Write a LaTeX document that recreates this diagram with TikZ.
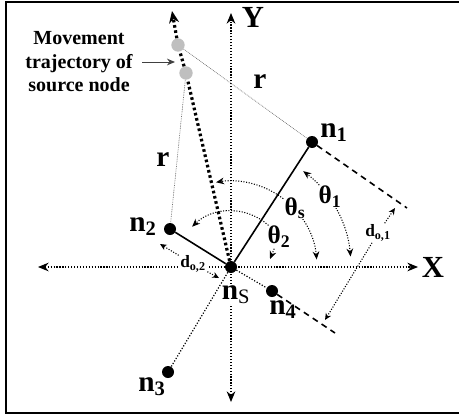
\documentclass[tikz,border=0pt]{standalone}
\usepackage{fontspec}
\setmainfont{Liberation Serif}
\usetikzlibrary{arrows.meta}

\begin{document}
\begin{tikzpicture}[
    x=0.75pt, y=0.75pt,
    every node/.style={font=\bfseries},
    sensor/.style={circle, fill=black, inner sep=0pt, minimum size=9pt},
    ghost/.style={circle, fill=black!25, inner sep=0pt, minimum size=10pt},
    tag/.style={inner sep=1pt, font=\bfseries\fontsize{22}{25}\selectfont},
    bigtag/.style={inner sep=1pt, font=\bfseries\fontsize{23}{26}\selectfont},
    angtag/.style={fill=white, inner sep=0.5pt,
                   font=\bfseries\fontsize{19}{21}\selectfont},
    dtag/.style={inner sep=1pt, font=\bfseries\fontsize{13}{15}\selectfont},
    note/.style={align=center, inner sep=1pt,
                 font=\bfseries\fontsize{15}{17.6}\selectfont},
    axisline/.style={line width=0.9pt, dash pattern=on 0.9pt off 1.3pt,
                     {Stealth[length=8pt,width=6.5pt]}-{Stealth[length=8pt,width=6.5pt]}},
    traj/.style={line width=2.4pt, dash pattern=on 2pt off 2pt},
    rline/.style={black!55, line width=0.5pt, dash pattern=on 0.6pt off 0.7pt},
    link/.style={line width=1.2pt},
    hidden/.style={line width=0.9pt, dash pattern=on 0.9pt off 1.3pt},
    guide/.style={line width=1.2pt, dash pattern=on 4.5pt off 3.5pt},
    angarrow/.style={line width=0.8pt, dash pattern=on 0.8pt off 1.2pt,
                     {Stealth[length=6pt,width=5pt]}-{Stealth[length=6pt,width=5pt]}},
    angend/.style={line width=0.8pt, dash pattern=on 0.8pt off 1.2pt,
                   -{Stealth[length=6pt,width=5pt]}},
    darrow/.style={line width=0.8pt, dash pattern=on 0.8pt off 1.2pt,
                   -{Stealth[length=5pt,width=4.5pt]}},
]

\useasboundingbox (0,0) rectangle (459,419);
\draw[line width=1.5pt] (6,6) rectangle (463,417);

\coordinate (xl) at (38,152);
\coordinate (xr) at (418,152);
\coordinate (yt) at (231,406);
\coordinate (yb) at (231,17);
\draw[axisline] (xl) -- (xr);
\draw[axisline] (yb) -- (yt);
\node[bigtag] (xlab) at (433,152) {X};
\node[bigtag] (ylab) at (253,402) {Y};

\node[sensor] (ns) at (231,152) {};
\node[sensor] (n1) at (312,277) {};
\node[sensor] (n2) at (170,190) {};
\node[sensor] (n3) at (168,47) {};
\node[sensor] (n4) at (272,128) {};
\node[ghost] (s1) at (178,374) {};
\node[ghost] (s2) at (186,346) {};
\coordinate (tip) at (172,408);
\coordinate (g1) at (407,211);
\coordinate (g4) at (335,86);

\draw[rline] (s1) -- (n1);
\draw[rline] (s2) -- (n2);
\draw[traj] (ns) -- (s2);
\draw[traj] (s2) -- (s1);
\draw[traj, -{Stealth[length=9pt,width=7.5pt]}] (s1) -- (tip);
\draw[link] (ns) -- (n1);
\draw[link] (ns) -- (n2);
\draw[hidden] (ns) -- (n3);
\draw[hidden] (ns) -- (n4);
\draw[guide] (n1) -- (g1);
\draw[guide] (n4) -- (g4);

\draw[angarrow] ([shift={(5:86)}]ns.center) arc[start angle=5, end angle=100, radius=86];
\draw[angarrow] ([shift={(5:120)}]ns.center) arc[start angle=5, end angle=53, radius=120];
\draw[angend] ([shift={(48:56)}]ns.center) arc[start angle=48, end angle=134, radius=56];

\node[angtag] (ths) at (295,211) {θ\textsubscript{s}};
\node[angtag] (th1) at (330,222) {θ\textsubscript{1}};
\node[angtag] (th2) at (279,182) {θ\textsubscript{2}};
\coordinate (th2tip) at (270,160);
\draw[angend] (th2) -- (th2tip);

\node[tag] (l1) at (334,286) {n\textsubscript{1}};
\node[tag] (l2) at (143,192) {n\textsubscript{2}};
\node[tag] (l3) at (152,32) {n\textsubscript{3}};
\node[tag] (l4) at (283,109) {n\textsubscript{4}};
\node[tag, fill=white, inner sep=0pt] (ls) at (236,124) {n\textsubscript{\mdseries S}};
\node[tag] (r1) at (260,337) {r};
\node[tag] (r2) at (163,259) {r};

\node[dtag] (do1) at (378,186) {d\textsubscript{o,1}};
\coordinate (do1a) at (395,211);
\coordinate (do1b) at (325,99);
\draw[darrow] (do1) -- (do1a);
\draw[darrow] (do1) -- (do1b);
\node[dtag, fill=white] (do2) at (193,155) {d\textsubscript{o,2}};
\coordinate (do2a) at (160,175);
\coordinate (do2b) at (219,141);
\draw[darrow] (do2) -- (do2a);
\draw[darrow] (do2) -- (do2b);

\node[note] (mv) at (79,357) {Movement\\trajectory of\\source node};
\coordinate (mvtip) at (175,357);
\draw[black!75, line width=0.7pt, -{Stealth[length=6pt,width=5pt]}]
    ([xshift=6pt]mv.east) -- (mvtip);

\end{tikzpicture}
\end{document}
